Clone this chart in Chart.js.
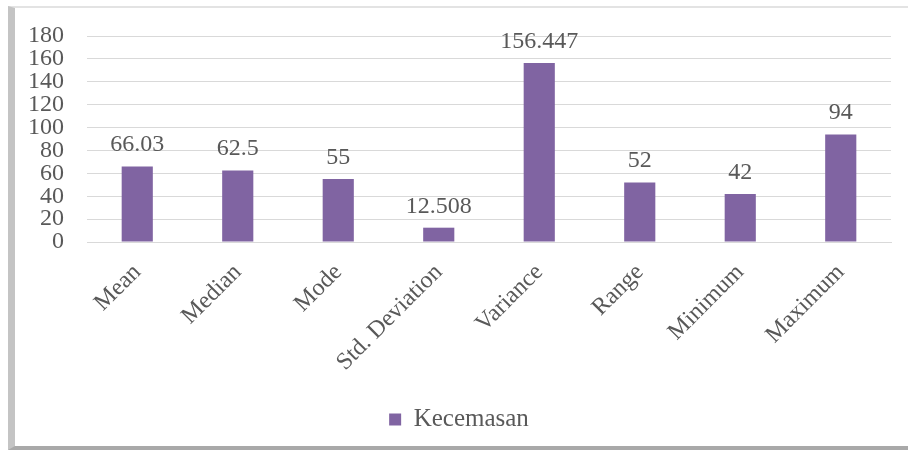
<!DOCTYPE html>
<html>
<head>
<meta charset="utf-8">
<script src="https://cdn.jsdelivr.net/npm/chart.js@4"></script>
<style>
    html, body { margin: 0; padding: 0; background: #ffffff; }
    .wrap { position: relative; width: 908px; height: 450px; overflow: hidden; }
    .frame {
        position: absolute; left: 8px; top: 6px; width: 940px; height: 438px;
        border-top: 2px solid #e3e3e3;
        border-left: 7px solid #c4c4c4;
        border-bottom: 4px solid #a9a9a9;
    }
    #chart { position: absolute; left: 0; top: 0; }
</style>
</head>
<body>
<div class="wrap">
    <div class="frame"></div>
    <canvas id="chart" width="908" height="450"></canvas>
</div>
<script>
// chart data
const categories = ['Mean', 'Median', 'Mode', 'Std. Deviation', 'Variance', 'Range', 'Minimum', 'Maximum'];
const kecemasan = [66.03, 62.5, 55, 12.508, 156.447, 52, 42, 94];
const yTicks = [0, 20, 40, 60, 80, 100, 120, 140, 160, 180];

const textColor = '#595959';
const serif = "'Liberation Serif', 'DejaVu Serif', serif";

// draws the value above each bar
const barValueLabels = {
    id: 'barValueLabels',
    afterDatasetsDraw(chart) {
        const ctx = chart.ctx;
        ctx.save();
        ctx.font = '24px ' + serif;
        ctx.fillStyle = textColor;
        ctx.textAlign = 'center';
        ctx.textBaseline = 'alphabetic';
        chart.getDatasetMeta(0).data.forEach((bar, i) => {
            ctx.fillText(String(kecemasan[i]), bar.x, bar.y - 15);
        });
        ctx.restore();
    }
};

document.addEventListener('DOMContentLoaded', function() {
    const ctx = document.getElementById('chart').getContext('2d');
    new Chart(ctx, {
        type: 'bar',
        data: {
            labels: categories,
            datasets: [{
                label: 'Kecemasan',
                data: kecemasan,
                backgroundColor: '#8064A2',
                barPercentage: 0.31,
                categoryPercentage: 1
            }]
        },
        options: {
            responsive: false,
            animation: false,
            devicePixelRatio: 1,
            layout: { padding: { left: 27, right: 17, top: 36, bottom: 8 } },
            scales: {
                x: {
                    grid: { display: false, drawTicks: false },
                    border: { display: true, color: '#d9d9d9' },
                    ticks: {
                        color: textColor,
                        font: { family: serif, size: 24, lineHeight: 1 },
                        minRotation: 45,
                        maxRotation: 45,
                        autoSkip: false,
                        padding: 18
                    },
                    afterFit(scale) { scale.height = 155; }
                },
                y: {
                    min: 0,
                    max: 180,
                    grid: { color: '#d9d9d9', drawTicks: false },
                    border: { display: false },
                    afterBuildTicks(scale) { scale.ticks = yTicks.map(v => ({ value: v })); },
                    ticks: {
                        color: textColor,
                        font: { family: serif, size: 24, lineHeight: 1 },
                        autoSkip: false,
                        padding: 23
                    },
                    afterFit(scale) { scale.width = 60; }
                }
            },
            plugins: {
                legend: {
                    position: 'bottom',
                    labels: {
                        color: textColor,
                        font: { family: serif, size: 25 },
                        boxWidth: 12,
                        boxHeight: 12,
                        padding: 10
                    }
                },
                tooltip: { enabled: false }
            }
        },
        plugins: [barValueLabels]
    });
});
</script>
</body>
</html>
